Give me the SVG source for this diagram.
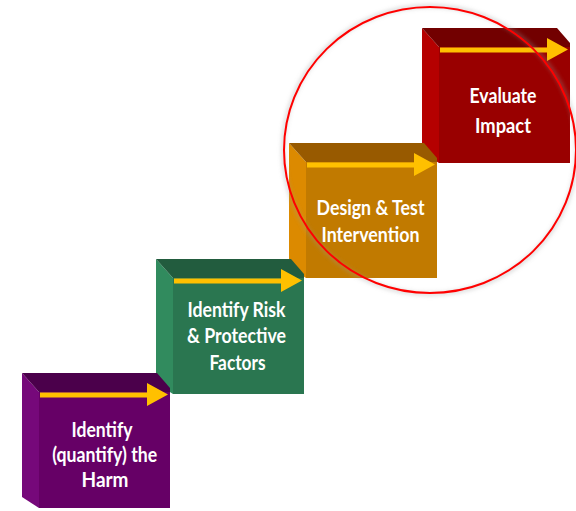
<svg xmlns="http://www.w3.org/2000/svg" width="576" height="511" viewBox="0 0 576 511">
  <defs>
    <filter id="soft" x="-10%" y="-10%" width="120%" height="120%">
      <feGaussianBlur stdDeviation="2"/>
    </filter>
    <!-- block faces, drawn relative to the back-top-left corner -->
    <path id="faceLeft" d="M0,0 L17,19 L17,135 L0,124 Z"/>
    <path id="faceTop" d="M0,0 L135,0 L148,15 L148,19 L17,19 Z"/>
    <path id="faceFront" d="M17,19 L148,19 L148,135 L17,135 Z"/>
    <path id="stepArrow" d="M18,19.5 L125,19.5 L125,10 L146,21.5 L125,33 L125,24.5 L18,24.5 Z"/>
  </defs>
  <style>
    .label { font-family: Lato, "Open Sans", "Liberation Sans", sans-serif; font-size: 21.5px; font-weight: 700; fill: #ffffff; text-anchor: middle; }
    .arrow { fill: #ffc000; }
    #harm   { --left: #76087a; --top: #4b004b; --front: #660066; }
    #risk   { --left: #318b5e; --top: #225c3e; --front: #2a7650; }
    #design { --left: #dc8a00; --top: #985a00; --front: #c17a00; }
    #impact { --left: #b50000; --top: #720000; --front: #990000; }
    .left  { fill: var(--left); }
    .top   { fill: var(--top); }
    .front { fill: var(--front); }
  </style>

  <rect width="576" height="511" fill="#ffffff"/>

  <!-- step 4 (drawn first, lowest in the stack) -->
  <g id="impact" transform="translate(422,28)">
    <use href="#faceLeft" class="left"/>
    <use href="#faceTop" class="top"/>
    <use href="#faceFront" class="front"/>
    <use href="#stepArrow" class="arrow"/>
    <text class="label" x="81" y="75.3" textLength="67" lengthAdjust="spacingAndGlyphs">Evaluate</text>
    <text class="label" x="81" y="105.3" textLength="56" lengthAdjust="spacingAndGlyphs">Impact</text>
  </g>

  <!-- step 3 -->
  <g id="design" transform="translate(289,143)">
    <use href="#faceLeft" class="left"/>
    <use href="#faceTop" class="top"/>
    <use href="#faceFront" class="front"/>
    <use href="#stepArrow" class="arrow"/>
    <text class="label" x="81.5" y="72" textLength="108" lengthAdjust="spacingAndGlyphs">Design &amp; Test</text>
    <text class="label" x="81.5" y="98.7" textLength="98" lengthAdjust="spacingAndGlyphs">Intervention</text>
  </g>

  <!-- step 2 -->
  <g id="risk" transform="translate(156,259)">
    <use href="#faceLeft" class="left"/>
    <use href="#faceTop" class="top"/>
    <use href="#faceFront" class="front"/>
    <use href="#stepArrow" class="arrow"/>
    <text class="label" x="80.5" y="57.7" textLength="98" lengthAdjust="spacingAndGlyphs">Identify Risk</text>
    <text class="label" x="80.5" y="84.3" textLength="99" lengthAdjust="spacingAndGlyphs">&amp; Protective</text>
    <text class="label" x="81.5" y="111" textLength="56" lengthAdjust="spacingAndGlyphs">Factors</text>
  </g>

  <!-- step 1 (top of the stack) -->
  <g id="harm" transform="translate(22,373)">
    <use href="#faceLeft" class="left"/>
    <use href="#faceTop" class="top"/>
    <use href="#faceFront" class="front"/>
    <use href="#stepArrow" class="arrow"/>
    <text class="label" x="80" y="63.7" textLength="61" lengthAdjust="spacingAndGlyphs">Identify</text>
    <text class="label" x="82.7" y="88.5" textLength="105" lengthAdjust="spacingAndGlyphs">(quantify) the</text>
    <text class="label" x="83" y="113.7" textLength="47" lengthAdjust="spacingAndGlyphs">Harm</text>
  </g>

  <!-- highlight ring around the last two steps -->
  <g id="highlight">
    <ellipse cx="430" cy="150" rx="147" ry="144" fill="none" stroke="#9a9a9a" stroke-opacity="0.45" stroke-width="3" filter="url(#soft)"/>
    <ellipse cx="430" cy="150" rx="146" ry="143" fill="none" stroke="#ff0000" stroke-width="2"/>
  </g>
</svg>
